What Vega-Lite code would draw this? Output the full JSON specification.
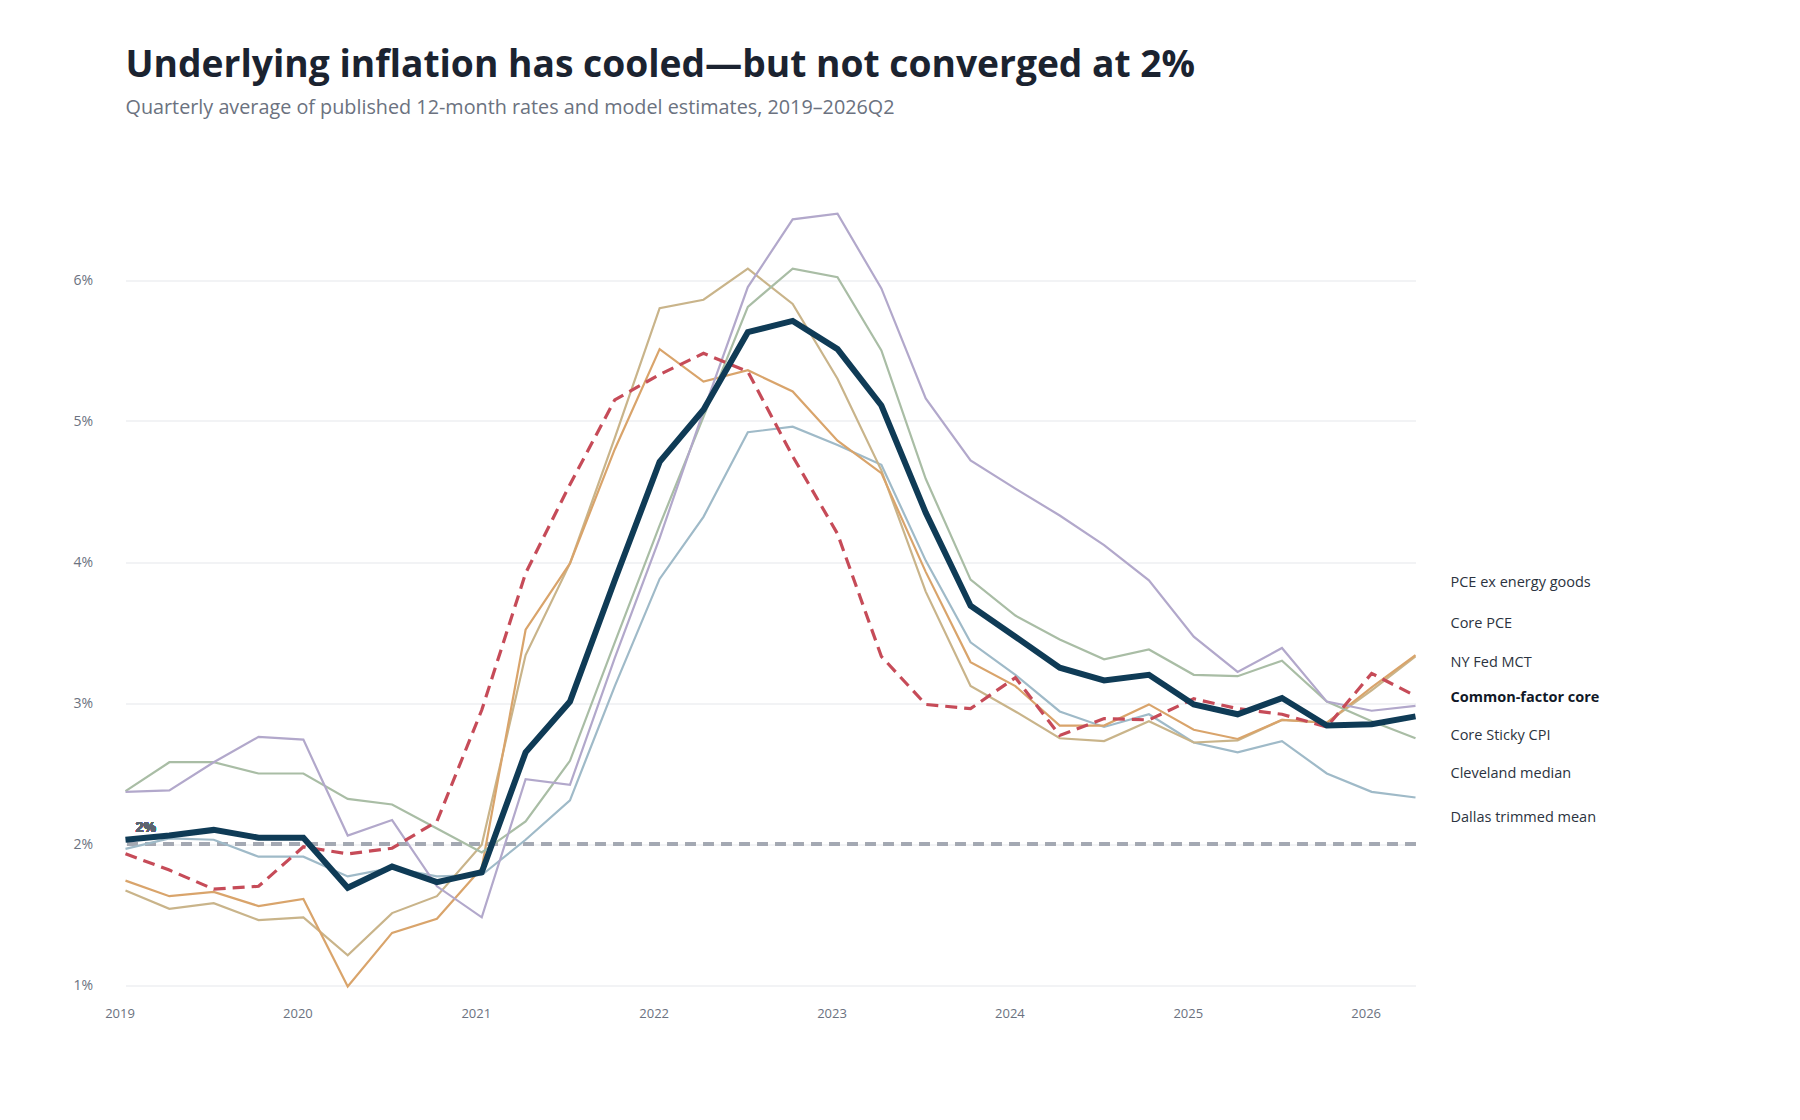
{
  "$schema": "https://vega.github.io/schema/vega-lite/v6.json",
  "width": 1290,
  "height": 775.5,
  "autosize": {"type": "none"},
  "padding": {"left": 125.5, "top": 209.5, "right": 384.5, "bottom": 135},
  "background": "white",
  "title": {
    "text": "Underlying inflation has cooled—but not converged at 2%",
    "subtitle": "Quarterly average of published 12-month rates and model estimates, 2019–2026Q2",
    "anchor": "start",
    "frame": "group",
    "offset": 91,
    "font": "Open Sans",
    "fontSize": 37.2,
    "fontWeight": "bold",
    "color": "#1b2330",
    "subtitleFont": "Open Sans",
    "subtitleFontSize": 19.8,
    "subtitleColor": "#6b7280",
    "subtitlePadding": 12
  },
  "config": {
    "view": {"stroke": null},
    "font": "Open Sans",
    "axis": {"title": null, "domain": false, "ticks": false, "tickSize": 0, "labelFont": "Open Sans", "labelColor": "#6b7280", "labelFontSize": 14}
  },
  "datasets": {
    "series": [
      {"date": "2019-01-01T00:00:00", "cf": 2.03, "mct": 1.93, "med": 2.37, "sticky": 2.375, "pce": 1.74, "pcex": 1.67, "dallas": 1.965},
      {"date": "2019-04-01T00:00:00", "cf": 2.06, "mct": 1.815, "med": 2.38, "sticky": 2.58, "pce": 1.63, "pcex": 1.54, "dallas": 2.04},
      {"date": "2019-07-01T00:00:00", "cf": 2.10, "mct": 1.68, "med": 2.58, "sticky": 2.58, "pce": 1.66, "pcex": 1.58, "dallas": 2.03},
      {"date": "2019-10-01T00:00:00", "cf": 2.045, "mct": 1.70, "med": 2.76, "sticky": 2.50, "pce": 1.56, "pcex": 1.46, "dallas": 1.91},
      {"date": "2020-01-01T00:00:00", "cf": 2.045, "mct": 1.98, "med": 2.74, "sticky": 2.50, "pce": 1.61, "pcex": 1.48, "dallas": 1.91},
      {"date": "2020-04-01T00:00:00", "cf": 1.69, "mct": 1.93, "med": 2.06, "sticky": 2.32, "pce": 0.99, "pcex": 1.21, "dallas": 1.77},
      {"date": "2020-07-01T00:00:00", "cf": 1.84, "mct": 1.97, "med": 2.17, "sticky": 2.28, "pce": 1.37, "pcex": 1.51, "dallas": 1.83},
      {"date": "2020-10-01T00:00:00", "cf": 1.73, "mct": 2.16, "med": 1.70, "sticky": 2.11, "pce": 1.47, "pcex": 1.63, "dallas": 1.77},
      {"date": "2021-01-01T00:00:00", "cf": 1.80, "mct": 2.95, "med": 1.48, "sticky": 1.94, "pce": 1.83, "pcex": 1.995, "dallas": 1.78},
      {"date": "2021-04-01T00:00:00", "cf": 2.65, "mct": 3.92, "med": 2.46, "sticky": 2.16, "pce": 3.52, "pcex": 3.34, "dallas": 2.03},
      {"date": "2021-07-01T00:00:00", "cf": 3.01, "mct": 4.55, "med": 2.42, "sticky": 2.59, "pce": 3.99, "pcex": 3.99, "dallas": 2.31},
      {"date": "2021-10-01T00:00:00", "cf": 3.87, "mct": 5.15, "med": 3.32, "sticky": 3.43, "pce": 4.80, "pcex": 4.88, "dallas": 3.12},
      {"date": "2022-01-01T00:00:00", "cf": 4.71, "mct": 5.33, "med": 4.17, "sticky": 4.26, "pce": 5.51, "pcex": 5.80, "dallas": 3.88},
      {"date": "2022-04-01T00:00:00", "cf": 5.08, "mct": 5.48, "med": 5.07, "sticky": 5.03, "pce": 5.28, "pcex": 5.86, "dallas": 4.32},
      {"date": "2022-07-01T00:00:00", "cf": 5.63, "mct": 5.35, "med": 5.95, "sticky": 5.81, "pce": 5.36, "pcex": 6.08, "dallas": 4.92},
      {"date": "2022-10-01T00:00:00", "cf": 5.71, "mct": 4.75, "med": 6.43, "sticky": 6.08, "pce": 5.21, "pcex": 5.83, "dallas": 4.96},
      {"date": "2023-01-01T00:00:00", "cf": 5.51, "mct": 4.20, "med": 6.47, "sticky": 6.02, "pce": 4.86, "pcex": 5.30, "dallas": 4.83},
      {"date": "2023-04-01T00:00:00", "cf": 5.11, "mct": 3.33, "med": 5.94, "sticky": 5.50, "pce": 4.63, "pcex": 4.65, "dallas": 4.69},
      {"date": "2023-07-01T00:00:00", "cf": 4.35, "mct": 2.99, "med": 5.16, "sticky": 4.59, "pce": 3.93, "pcex": 3.79, "dallas": 4.01},
      {"date": "2023-10-01T00:00:00", "cf": 3.69, "mct": 2.96, "med": 4.72, "sticky": 3.875, "pce": 3.29, "pcex": 3.12, "dallas": 3.43},
      {"date": "2024-01-01T00:00:00", "cf": 3.47, "mct": 3.18, "med": 4.52, "sticky": 3.62, "pce": 3.12, "pcex": 2.94, "dallas": 3.20},
      {"date": "2024-04-01T00:00:00", "cf": 3.25, "mct": 2.77, "med": 4.33, "sticky": 3.45, "pce": 2.84, "pcex": 2.75, "dallas": 2.94},
      {"date": "2024-07-01T00:00:00", "cf": 3.16, "mct": 2.89, "med": 4.12, "sticky": 3.31, "pce": 2.84, "pcex": 2.73, "dallas": 2.83},
      {"date": "2024-10-01T00:00:00", "cf": 3.20, "mct": 2.88, "med": 3.87, "sticky": 3.38, "pce": 2.99, "pcex": 2.87, "dallas": 2.92},
      {"date": "2025-01-01T00:00:00", "cf": 2.99, "mct": 3.03, "med": 3.47, "sticky": 3.20, "pce": 2.81, "pcex": 2.72, "dallas": 2.72},
      {"date": "2025-04-01T00:00:00", "cf": 2.92, "mct": 2.96, "med": 3.22, "sticky": 3.19, "pce": 2.745, "pcex": 2.735, "dallas": 2.65},
      {"date": "2025-07-01T00:00:00", "cf": 3.035, "mct": 2.92, "med": 3.39, "sticky": 3.30, "pce": 2.88, "pcex": 2.88, "dallas": 2.73},
      {"date": "2025-10-01T00:00:00", "cf": 2.84, "mct": 2.83, "med": 3.01, "sticky": 3.01, "pce": 2.86, "pcex": 2.86, "dallas": 2.50},
      {"date": "2026-01-01T00:00:00", "cf": 2.85, "mct": 3.21, "med": 2.945, "sticky": 2.87, "pce": 3.11, "pcex": 3.09, "dallas": 2.37},
      {"date": "2026-04-01T00:00:00", "cf": 2.905, "mct": 3.05, "med": 2.98, "sticky": 2.75, "pce": 3.34, "pcex": 3.33, "dallas": 2.33}
    ],
    "labels": [
      {"date": "2026-04-01T00:00:00", "label": "PCE ex energy goods", "pos": 3.848, "key": "no"},
      {"date": "2026-04-01T00:00:00", "label": "Core PCE", "pos": 3.557, "key": "no"},
      {"date": "2026-04-01T00:00:00", "label": "NY Fed MCT", "pos": 3.282, "key": "no"},
      {"date": "2026-04-01T00:00:00", "label": "Common-factor core", "pos": 3.033, "key": "yes"},
      {"date": "2026-04-01T00:00:00", "label": "Core Sticky CPI", "pos": 2.768, "key": "no"},
      {"date": "2026-04-01T00:00:00", "label": "Cleveland median", "pos": 2.499, "key": "no"},
      {"date": "2026-04-01T00:00:00", "label": "Dallas trimmed mean", "pos": 2.187, "key": "no"}
    ]
  },
  "data": {"name": "series"},
  "encoding": {
    "x": {
      "field": "date",
      "type": "temporal",
      "scale": {"nice": false},
      "axis": {"format": "%Y", "tickCount": "year", "grid": false, "labelPadding": 22, "labelFlush": false, "labelOffset": -6, "labelFontSize": 13}
    }
  },
  "layer": [
    {
      "mark": {"type": "rule", "stroke": "#a3a9b2", "strokeWidth": 2.5, "strokeDash": [10, 8]},
      "encoding": {"x": null, "y": {"datum": 2, "type": "quantitative"}}
    },
    {
      "mark": {"type": "line", "stroke": "#9fbac8", "strokeWidth": 2.2},
      "encoding": {"y": {"field": "dallas", "type": "quantitative", "scale": {"domain": [1, 6.5], "nice": false, "zero": false}, "axis": {"values": [1, 2, 3, 4, 5, 6], "labelExpr": "datum.value + '%'", "grid": true, "gridColor": "#e5e7eb", "gridWidth": 1, "labelPadding": 33, "labelFontSize": 14}}}
    },
    {"mark": {"type": "line", "stroke": "#c9b48a", "strokeWidth": 2.2}, "encoding": {"y": {"field": "pcex", "type": "quantitative"}}},
    {"mark": {"type": "line", "stroke": "#d9a46b", "strokeWidth": 2.2}, "encoding": {"y": {"field": "pce", "type": "quantitative"}}},
    {"mark": {"type": "line", "stroke": "#a9bda5", "strokeWidth": 2.2}, "encoding": {"y": {"field": "sticky", "type": "quantitative"}}},
    {"mark": {"type": "line", "stroke": "#b2a8cb", "strokeWidth": 2.2}, "encoding": {"y": {"field": "med", "type": "quantitative"}}},
    {"mark": {"type": "line", "stroke": "#c64b58", "strokeWidth": 3.2, "strokeDash": [12, 7]}, "encoding": {"y": {"field": "mct", "type": "quantitative"}}},
    {"mark": {"type": "line", "stroke": "#0f3b56", "strokeWidth": 6, "strokeJoin": "miter"}, "encoding": {"y": {"field": "cf", "type": "quantitative"}}},
    {
      "mark": {"type": "text", "text": "2%", "align": "left", "baseline": "alphabetic", "dx": 10, "dy": -12, "font": "Open Sans", "fontSize": 14, "fontWeight": "bold", "color": "#5b6470"},
      "encoding": {"x": {"datum": {"year": 2019, "month": 1, "date": 1}, "type": "temporal"}, "y": {"datum": 2, "type": "quantitative"}}
    },
    {
      "data": {"name": "labels"},
      "transform": [{"filter": "datum.key == 'no'"}],
      "mark": {"type": "text", "align": "left", "baseline": "middle", "dx": 35, "font": "Open Sans", "fontSize": 14.5, "color": "#2b3340"},
      "encoding": {"y": {"field": "pos", "type": "quantitative"}, "text": {"field": "label"}}
    },
    {
      "data": {"name": "labels"},
      "transform": [{"filter": "datum.key == 'yes'"}],
      "mark": {"type": "text", "align": "left", "baseline": "middle", "dx": 35, "font": "Open Sans", "fontSize": 14.5, "fontWeight": "bold", "color": "#111827"},
      "encoding": {"y": {"field": "pos", "type": "quantitative"}, "text": {"field": "label"}}
    }
  ]
}
